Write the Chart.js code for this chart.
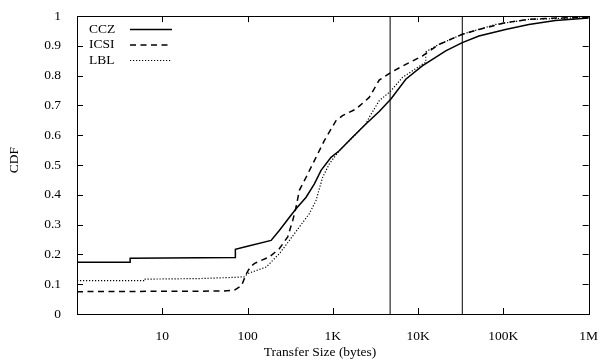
<!DOCTYPE html>
<html>
<head>
<meta charset="utf-8">
<script src="https://cdn.jsdelivr.net/npm/chart.js@4"></script>
<style>
  html, body { margin: 0; padding: 0; background: #fff; }
  #wrap { width: 604px; height: 363px; }
</style>
</head>
<body>
<div id="wrap"><canvas id="cdf-chart" width="604" height="363"></canvas></div>
<script>
// データ
const cczSize = [1, 4.2, 4.2, 72, 72, 92, 189, 237, 310, 371, 486, 608, 728, 953, 1190, 1633, 2440, 3500, 4800, 7180, 11200, 21100, 33000, 51700, 106000, 199000, 408000, 1000000];
const cczCdf = [0.174, 0.174, 0.187, 0.19, 0.217, 0.225, 0.247, 0.281, 0.325, 0.353, 0.392, 0.437, 0.482, 0.526, 0.548, 0.588, 0.638, 0.68, 0.722, 0.788, 0.833, 0.883, 0.911, 0.933, 0.955, 0.972, 0.985, 0.994];

const icsiSize = [1, 50, 70, 85, 95, 101, 110, 121, 181, 237, 296, 339, 371, 405, 486, 608, 795, 1090, 1300, 1870, 2670, 3500, 4800, 7180, 11200, 17600, 33000, 51700, 106000, 199000, 483000, 1000000];
const icsiCdf = [0.075, 0.077, 0.08, 0.095, 0.13, 0.145, 0.16, 0.17, 0.192, 0.22, 0.259, 0.314, 0.359, 0.415, 0.459, 0.515, 0.582, 0.649, 0.666, 0.688, 0.727, 0.785, 0.811, 0.838, 0.866, 0.905, 0.939, 0.955, 0.978, 0.989, 0.994, 0.996];

const lblSize = [1, 6.3, 6.3, 27.5, 70, 92, 101, 166, 237, 310, 405, 531, 635, 760, 910, 1190, 1710, 2440, 2670, 3500, 4800, 6550, 11200, 12300, 12300, 17600, 33000, 81000, 199000, 1000000];
const lblCdf = [0.112, 0.112, 0.117, 0.119, 0.123, 0.125, 0.136, 0.158, 0.203, 0.247, 0.292, 0.337, 0.381, 0.459, 0.504, 0.548, 0.593, 0.638, 0.66, 0.716, 0.749, 0.794, 0.838, 0.845, 0.88, 0.905, 0.939, 0.972, 0.989, 0.995];

// 縦線の位置
const markerSizes = [4700, 33000];

const xTickValues = [1, 10, 100, 1000, 10000, 100000, 1000000];
const xTickLabels = ['', '10', '100', '1K', '10K', '100K', '1M'];

const FONT = 'Liberation Serif';
const FONT_SIZE = 13.5;

function toPoints(xs, ys) {
    return xs.map((x, i) => ({ x: x, y: ys[i] }));
}

const series = [
    { label: 'CCZ', data: toPoints(cczSize, cczCdf), dash: [], width: 1.5 },
    { label: 'ICSI', data: toPoints(icsiSize, icsiCdf), dash: [6, 4.5], width: 1.5 },
    { label: 'LBL', data: toPoints(lblSize, lblCdf), dash: [1.2, 1.8], width: 1.2 }
];

const datasets = series.map(s => ({
    label: s.label,
    data: s.data,
    borderColor: '#000',
    borderWidth: s.width,
    borderDash: s.dash,
    pointRadius: 0,
    tension: 0,
    fill: false
}));

markerSizes.forEach(m => {
    datasets.push({
        label: 'marker',
        data: [{ x: m, y: 0 }, { x: m, y: 1 }],
        borderColor: '#000',
        borderWidth: 1,
        pointRadius: 0,
        fill: false
    });
});

// 枠・目盛り・凡例・軸タイトル
const framePlugin = {
    id: 'frame',
    afterDraw(chart) {
        const ctx = chart.ctx;
        const a = chart.chartArea;
        const xs = chart.scales.x;
        const ys = chart.scales.y;
        ctx.save();
        ctx.strokeStyle = '#000';
        ctx.lineWidth = 1;
        ctx.setLineDash([]);
        ctx.strokeRect(Math.round(a.left) + 0.5, Math.round(a.top) + 0.5,
            Math.round(a.right - a.left), Math.round(a.bottom - a.top));

        ctx.beginPath();
        for (let i = 0; i <= 10; i++) {
            const py = Math.round(ys.getPixelForValue(i / 10)) + 0.5;
            ctx.moveTo(a.left, py); ctx.lineTo(a.left + 6, py);
            ctx.moveTo(a.right, py); ctx.lineTo(a.right - 6, py);
        }
        xTickValues.forEach(v => {
            const px = Math.round(xs.getPixelForValue(v)) + 0.5;
            ctx.moveTo(px, a.bottom); ctx.lineTo(px, a.bottom - 6);
            ctx.moveTo(px, a.top); ctx.lineTo(px, a.top + 6);
        });
        ctx.stroke();

        // 凡例
        ctx.font = FONT_SIZE + 'px "' + FONT + '"';
        ctx.fillStyle = '#000';
        ctx.textBaseline = 'middle';
        ctx.textAlign = 'left';
        series.forEach((s, i) => {
            const y = 29 + i * 15.5;
            ctx.fillText(s.label, 89, y);
            ctx.beginPath();
            ctx.lineWidth = s.width;
            ctx.setLineDash(s.dash);
            ctx.moveTo(130, y + 0.5);
            ctx.lineTo(172, y + 0.5);
            ctx.stroke();
        });
        ctx.setLineDash([]);

        // 軸タイトル
        ctx.textAlign = 'center';
        ctx.fillText('Transfer Size (bytes)', 320, 352);
        ctx.translate(14, 160);
        ctx.rotate(-Math.PI / 2);
        ctx.fillText('CDF', 0, 0);
        ctx.restore();
    }
};

const ctx = document.getElementById('cdf-chart').getContext('2d');
new Chart(ctx, {
    type: 'line',
    data: { datasets: datasets },
    options: {
        responsive: false,
        animation: false,
        layout: { padding: { top: 15, right: 11, left: 0, bottom: 0 } },
        plugins: {
            legend: { display: false },
            tooltip: { enabled: false }
        },
        scales: {
            x: {
                type: 'logarithmic',
                min: 1,
                max: 1000000,
                grid: { display: false },
                border: { display: false },
                afterBuildTicks: scale => {
                    scale.ticks = xTickValues.map(v => ({ value: v }));
                },
                afterFit: scale => { scale.height = 49; },
                ticks: {
                    autoSkip: false,
                    maxRotation: 0,
                    padding: 6,
                    color: '#000',
                    font: { family: FONT, size: FONT_SIZE },
                    callback: v => xTickLabels[xTickValues.indexOf(v)] ?? ''
                }
            },
            y: {
                min: 0,
                max: 1,
                grid: { display: false },
                border: { display: false },
                afterFit: scale => { scale.width = 77; },
                ticks: {
                    stepSize: 0.1,
                    padding: 8,
                    color: '#000',
                    font: { family: FONT, size: FONT_SIZE },
                    callback: v => String(+v.toFixed(1))
                }
            }
        }
    },
    plugins: [framePlugin]
});
</script>
</body>
</html>
